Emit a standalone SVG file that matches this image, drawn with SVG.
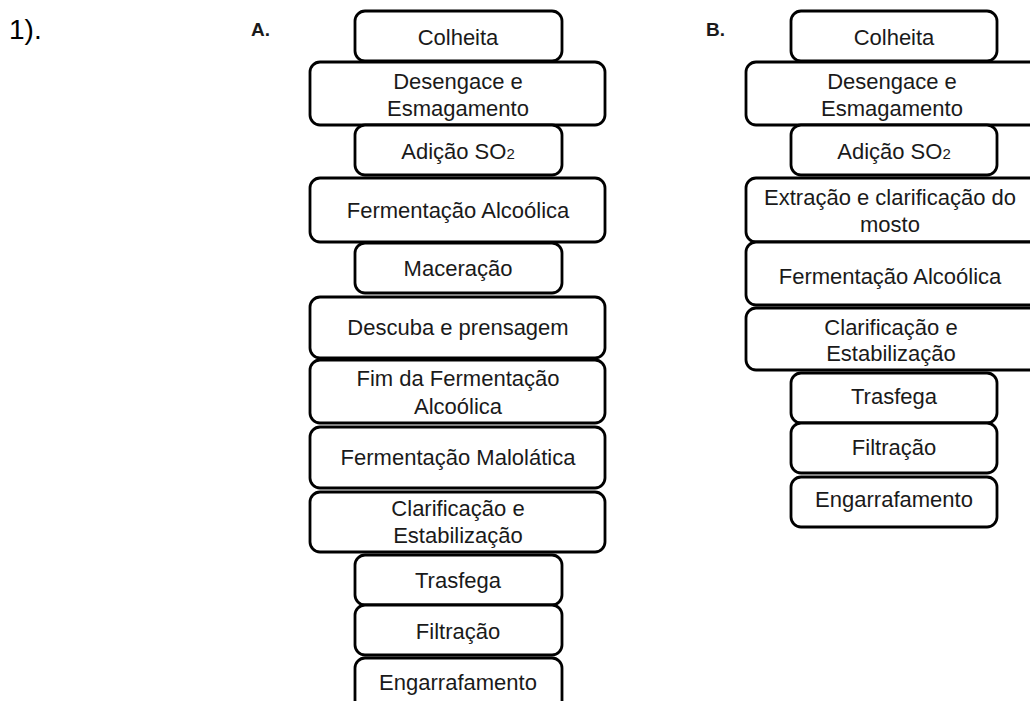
<svg xmlns="http://www.w3.org/2000/svg" width="1030" height="701" viewBox="0 0 1030 701">
<style>
.b{fill:#fff;stroke:#000;stroke-width:2.8}
.t{font-family:"Liberation Sans",Arial,sans-serif;font-size:22px;fill:#1a1a1a;text-anchor:middle}
.s{font-size:15px}
.h{font-family:"Liberation Sans",Arial,sans-serif;font-weight:bold;font-size:19px;fill:#1a1a1a}
</style>
<rect width="1030" height="701" fill="#fff"/>
<text x="9" y="39" style="font-family:'Liberation Sans',Arial,sans-serif;font-size:28px;fill:#000">1).</text>
<text x="251" y="36" class="h">A.</text>
<text x="706" y="36" class="h">B.</text>
<g id="connectors"></g>
<g id="A">
<g id="a1"><rect class="b" x="355" y="11" width="207" height="50" rx="10"/><text class="t" x="458" y="45">Colheita</text></g>
<g id="a2"><rect class="b" x="310" y="62" width="295" height="63" rx="10"/><text class="t" x="458" y="89">Desengace e</text><text class="t" x="458" y="116">Esmagamento</text></g>
<g id="a3"><rect class="b" x="355" y="125" width="207" height="50" rx="10"/><text class="t" x="458" y="159">Adição SO<tspan class="s">2</tspan></text></g>
<g id="a4"><rect class="b" x="310" y="178" width="295" height="64" rx="10"/><text class="t" x="458" y="218">Fermentação Alcoólica</text></g>
<g id="a5"><rect class="b" x="355" y="243" width="207" height="50" rx="10"/><text class="t" x="458" y="276">Maceração</text></g>
<g id="a6"><rect class="b" x="310" y="297" width="295" height="61" rx="10"/><text class="t" x="458" y="335">Descuba e prensagem</text></g>
<g id="a7"><rect class="b" x="310" y="360" width="295" height="63" rx="10"/><text class="t" x="458" y="386">Fim da Fermentação</text><text class="t" x="458" y="414">Alcoólica</text></g>
<g id="a8"><rect class="b" x="310" y="427" width="295" height="61" rx="10"/><text class="t" x="458" y="465">Fermentação Malolática</text></g>
<g id="a9"><rect class="b" x="310" y="492" width="295" height="60" rx="10"/><text class="t" x="458" y="516">Clarificação e</text><text class="t" x="458" y="543">Estabilização</text></g>
<g id="a10"><rect class="b" x="355" y="555" width="207" height="50" rx="10"/><text class="t" x="458" y="588">Trasfega</text></g>
<g id="a11"><rect class="b" x="355" y="605" width="207" height="50" rx="10"/><text class="t" x="458" y="639">Filtração</text></g>
<g id="a12"><rect class="b" x="355" y="658" width="207" height="60" rx="10"/><text class="t" x="458" y="690">Engarrafamento</text></g>
</g>
<g id="B">
<g id="b1"><rect class="b" x="791" y="11" width="206" height="50" rx="10"/><text class="t" x="894" y="45">Colheita</text></g>
<g id="b2"><rect class="b" x="746" y="62" width="298" height="63" rx="10"/><text class="t" x="892" y="89">Desengace e</text><text class="t" x="892" y="116">Esmagamento</text></g>
<g id="b3"><rect class="b" x="791" y="125" width="206" height="50" rx="10"/><text class="t" x="894" y="159">Adição SO<tspan class="s">2</tspan></text></g>
<g id="b4"><rect class="b" x="746" y="178" width="298" height="64" rx="10"/><text class="t" x="890" y="205">Extração e clarificação do</text><text class="t" x="890" y="232">mosto</text></g>
<g id="b5"><rect class="b" x="746" y="242" width="298" height="63" rx="10"/><text class="t" x="890" y="284">Fermentação Alcoólica</text></g>
<g id="b6"><rect class="b" x="746" y="308" width="298" height="62" rx="10"/><text class="t" x="891" y="335">Clarificação e</text><text class="t" x="891" y="361">Estabilização</text></g>
<g id="b7"><rect class="b" x="791" y="373" width="206" height="50" rx="10"/><text class="t" x="894" y="404">Trasfega</text></g>
<g id="b8"><rect class="b" x="791" y="423" width="206" height="50" rx="10"/><text class="t" x="894" y="455">Filtração</text></g>
<g id="b9"><rect class="b" x="791" y="477" width="206" height="50" rx="10"/><text class="t" x="894" y="507">Engarrafamento</text></g>
</g>
</svg>
